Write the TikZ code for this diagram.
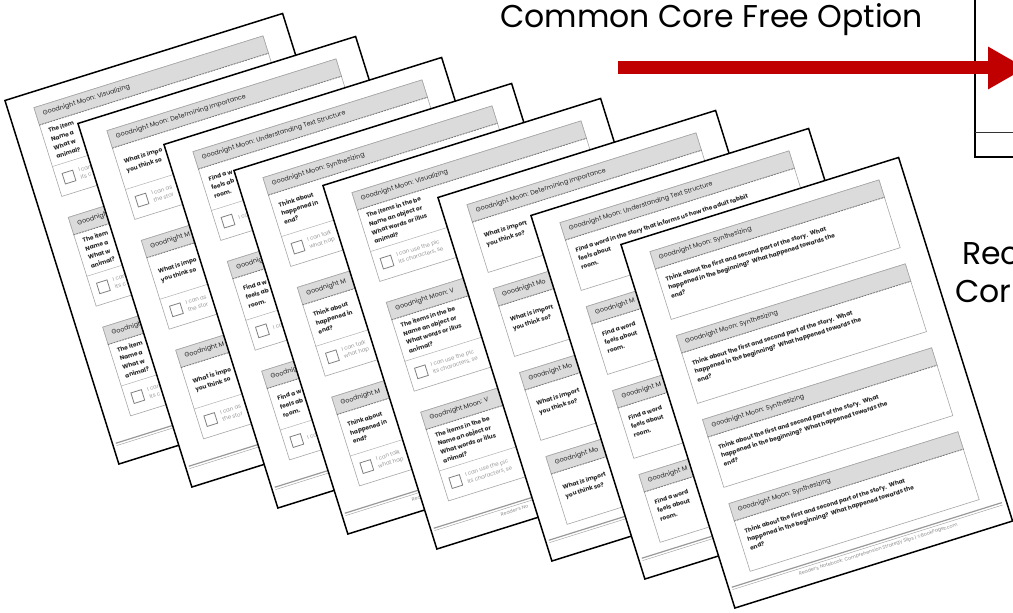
\documentclass[tikz,border=0pt]{standalone}
\usepackage{fontspec}
\setmainfont{Poppins}
\usetikzlibrary{arrows.meta,positioning}
\definecolor{arrowred}{RGB}{192,0,0}

\begin{document}
\begin{tikzpicture}[x=1pt,y=1pt,
  sheet/.style={draw=black,line width=1.5pt,fill=white,minimum width=291pt,minimum height=381pt,anchor=north west,inner sep=0pt},
  slip/.style={draw=black!35,line width=0.6pt,fill=white,minimum width=240pt,anchor=north west,inner sep=0pt},
  band/.style={draw=black!35,line width=0.6pt,fill=black!14,minimum width=240pt,minimum height=18pt,anchor=north west,inner sep=0pt},
  cut/.style={black!55,line width=0.7pt,dash pattern=on 1.6pt off 1.4pt},
  title/.style={anchor=west,inner sep=0pt,text=black!85,font=\fontsize{6.4}{7}\selectfont},
  ask/.style={anchor=west,inner sep=0pt,align=left,text=black!85,font=\bfseries\fontsize{5.9}{9}\selectfont},
  tick/.style={draw=black!50,line width=0.8pt,minimum size=11pt,inner sep=0pt},
  cando/.style={inner sep=0pt,align=left,text=black!40,font=\fontsize{5.5}{7.5}\selectfont},
  footer/.style={anchor=north west,inner sep=0pt,text=black!45,font=\fontsize{4.8}{5}\selectfont},
  heading/.style={inner sep=0pt,anchor=base west,font=\fontsize{31.5}{34}\selectfont}]
\useasboundingbox (0,0) rectangle (1013,613);
\clip (0,0) rectangle (1013,613);
\fill[white] (0,0) rectangle (1013,613);

\foreach \px/\py/\ttl/\hcut/\bodyone/\body/\chk/\foot [count=\n] in {
  4/100/Visualizing/Goodnigh/{The item\\Name a\\What w\\animal?}/{The item\\Name a\\What w\\animal?}/{I can\\its c}/{},
  77/123/Determining Importance/Goodnight M/{What is impo\\you think so}/{What is impo\\you think so}/{I can as\\the stor}/{},
  163/144/Understanding Text Structure/Goodnig/{Find a w\\feels ab\\room.}/{Find a w\\feels ab\\room.}/{I can}/{},
  233/170/Synthesizing/Goodnight M/{Think about\\happened in\\end?}/{Think about\\happened in\\end?}/{I can talk\\what hap}/{Rea},
  322/185/Visualizing/Goodnight Moon: V/{The items in the be\\Name an object or\\What words or illus\\animal?}/{The items in the be\\Name an object or\\What words or illus\\animal?}/{I can use the pic\\its characters, se}/{Reader's No},
  437/197/Determining Importance/Goodnight Mo/{What is import\\you think so?}/{What is import\\you think so?}/{}/{},
  530/215/Understanding Text Structure/Goodnight M/{Find a word in the story that informs us how the adult rabbit\\feels about\\room.}/{Find a word\\feels about\\room.}/{}/{},
  620/244/Synthesizing/Goodnight Moon: Synthesizing/{Think about the first and second part of the story.\ \ What\\happened in the beginning?\ \ What happened towards the\\end?}/{Think about the first and second part of the story.\ \ What\\happened in the beginning?\ \ What happened towards the\\end?}/{}/{Reader's Notebook: Comprehension Strategy Slips | ©BookPagez.com}}
{
  \ifnum\n<6 \def\slipn{3}\def\slipgap{115}\def\sliph{93}\else\def\slipn{4}\def\slipgap{88}\def\sliph{71}\fi
  \begin{scope}[shift={(\px,613-\py)},rotate=17.4,transform shape]
    \node[sheet] (sheet\n) at (0,0) {};
    \foreach \k in {1,...,\slipn}{
      \pgfmathsetmacro\slipy{16+\slipgap*(\k-1)}
      \node[slip,minimum height=\sliph pt] (slip\n-\k) at (26,-\slipy) {};
      \node[band] (band\n-\k) at (26,-\slipy) {};
      \draw[cut] (band\n-\k.south west) -- (band\n-\k.south east);
      \ifnum\k=1
        \node[title] (title\n-\k) at (33,-\slipy-9) {Goodnight Moon: \ttl};
        \node[ask] (ask\n-\k) at (33,-\slipy-40) {\bodyone};
      \else
        \node[title] (title\n-\k) at (33,-\slipy-9) {\hcut};
        \node[ask] (ask\n-\k) at (33,-\slipy-40) {\body};
      \fi
      \ifnum\n<6
        \draw[black!30,line width=0.5pt] (26,-\slipy-62) -- (266,-\slipy-62);
        \node[tick] (tick\n-\k) at (39,-\slipy-77) {};
        \node[cando,right=5pt of tick\n-\k] (cando\n-\k) {\chk};
      \fi
    }
    \draw[black!40,line width=1.2pt] (4,-361) -- (287,-361);
    \draw[black!40,line width=0.4pt] (4,-363.5) -- (287,-363.5);
    \ifx\foot\empty\else
      \node[footer] (footer\n) at (72,-366) {\foot};
    \fi
  \end{scope}
}

\coordinate (frametop) at (975,615);
\coordinate (framecorner) at (975,456);
\coordinate (frameend) at (1015,456);
\draw[line width=1.6pt] (frametop) -- (framecorner) -- (frameend);
\draw[line width=1pt,black!80] (975,480) -- (1015,480);
\coordinate (arrowtail) at (618,545);
\coordinate (arrowtip) at (1026,545);
\draw[line width=13pt,arrowred,-{Triangle[length=38pt,width=40pt]}] (arrowtail) -- (arrowtip);

\node[heading] (cc) at (500,585) {Common Core Free Option};
\node[heading] (rec) at (962,348) {Rec};
\node[heading] (cor) at (955,310) {Cor};
\end{tikzpicture}
\end{document}
